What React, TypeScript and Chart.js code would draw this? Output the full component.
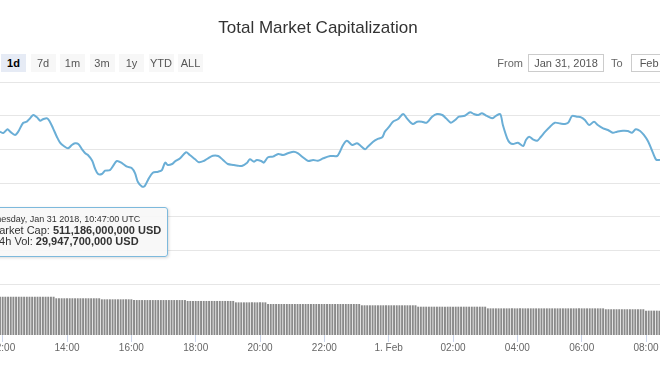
import { useEffect, useRef } from 'react';
import { Chart, registerables } from 'chart.js';

Chart.register(...registerables);

// ---- data (minutes since Jan 31 2018 00:00 UTC) ----
const capTimes = [
  715, 721, 729, 734, 743, 749, 758, 765, 771, 777,
  784, 790, 795, 803, 808, 814, 821, 827, 834, 842,
  849, 855, 861, 868, 874, 879, 887, 892, 898, 905,
  911, 920, 926, 933, 943, 952, 961, 967, 972, 980,
  985, 991, 1000, 1010, 1017, 1023, 1028, 1036, 1041, 1051,
  1062, 1069, 1079, 1086, 1096, 1103, 1112, 1122, 1131, 1140,
  1150, 1159, 1166, 1176, 1181, 1189, 1194, 1202, 1207, 1215,
  1224, 1234, 1243, 1252, 1263, 1271, 1280, 1290, 1299, 1308,
  1318, 1331, 1344, 1349, 1355, 1362, 1372, 1381, 1388, 1396,
  1401, 1411, 1418, 1428, 1433, 1441, 1448, 1457, 1467, 1474,
  1485, 1493, 1502, 1511, 1521, 1530, 1540, 1547, 1556, 1564,
  1571, 1582, 1592, 1599, 1607, 1614, 1623, 1633, 1640, 1648,
  1653, 1661, 1666, 1672, 1681, 1691, 1696, 1702, 1709, 1717,
  1724, 1732, 1741, 1750, 1760, 1769, 1775, 1782, 1791, 1799,
  1806, 1814, 1823, 1830, 1840, 1849, 1858, 1866, 1877, 1886,
  1894, 1901, 1909, 1916, 1924, 1933, 1939, 1946,
];

// Market cap, billions USD
const capValues = [
  517.63, 517.43, 517.98, 517.63, 517.14, 517.63, 518.92, 519.11, 519.61, 520.10,
  519.76, 519.26, 519.47, 519.61, 519.11, 518.13, 516.88, 515.99, 515.50, 515.16,
  515.65, 515.90, 515.80, 515.01, 514.42, 514.17, 513.32, 512.20, 511.35, 511.35,
  511.84, 511.94, 512.54, 513.28, 512.94, 512.43, 512.20, 511.45, 510.21, 509.47,
  509.57, 510.46, 511.54, 511.69, 511.94, 513.03, 512.69, 512.83, 513.18, 513.68,
  514.57, 514.17, 513.53, 513.09, 513.32, 513.68, 514.06, 514.02, 513.43, 512.83,
  512.69, 512.58, 512.54, 513.03, 513.53, 513.18, 513.43, 513.28, 513.03, 513.83,
  513.92, 514.32, 514.17, 514.42, 514.66, 514.42, 513.83, 513.28, 513.43, 513.32,
  513.68, 514.02, 514.02, 514.66, 515.65, 516.29, 515.65, 515.90, 515.50, 515.01,
  515.40, 516.14, 516.50, 516.79, 517.63, 518.37, 519.11, 519.47, 520.25, 519.61,
  518.77, 519.11, 519.11, 518.96, 519.85, 520.25, 520.10, 519.61, 518.96, 519.36,
  519.85, 520.00, 520.50, 520.25, 520.10, 520.36, 519.96, 519.61, 519.96, 520.25,
  518.62, 516.65, 515.99, 515.80, 515.99, 515.50, 516.39, 516.88, 516.50, 516.29,
  516.88, 517.63, 518.37, 518.96, 518.84, 518.77, 518.96, 519.96, 519.85, 519.76,
  519.36, 518.62, 519.11, 518.62, 518.13, 517.88, 517.48, 517.63, 517.77, 517.73,
  517.48, 517.98, 517.73, 517.14, 516.17, 514.47, 513.47, 513.43,
];

// 24h volume, billions USD, one bar every 5 minutes from 11:55
const volumeStartMinute = 715;
const volumeStepMinutes = 5;
const volumeValues = [
  30.0, 30.0, 30.0, 30.0, 30.0, 30.0, 30.0, 30.0, 30.0, 30.0,
  30.0, 30.0, 30.0, 30.0, 30.0, 30.0, 30.0, 30.0, 30.0, 30.0,
  30.0,
  28.8, 28.8, 28.8, 28.8, 28.8, 28.8, 28.8, 28.8, 28.8, 28.8,
  28.8, 28.8, 28.8, 28.8, 28.8, 28.8, 28.8,
  28.0, 28.0, 28.0, 28.0, 28.0, 28.0, 28.0, 28.0, 28.0, 28.0, 28.0, 28.0,
  27.4, 27.4, 27.4, 27.4, 27.4, 27.4, 27.4, 27.4, 27.4, 27.4,
  27.4, 27.4, 27.4, 27.4, 27.4, 27.4, 27.4, 27.4, 27.4, 27.4,
  26.7, 26.7, 26.7, 26.7, 26.7, 26.7, 26.7, 26.7, 26.7, 26.7,
  26.7, 26.7, 26.7, 26.7, 26.7, 26.7, 26.7, 26.7,
  25.6, 25.6, 25.6, 25.6, 25.6, 25.6, 25.6, 25.6, 25.6, 25.6, 25.6, 25.6,
  24.3, 24.3, 24.3, 24.3, 24.3, 24.3, 24.3, 24.3, 24.3, 24.3,
  24.3, 24.3, 24.3, 24.3, 24.3, 24.3, 24.3, 24.3, 24.3, 24.3,
  24.3, 24.3, 24.3, 24.3, 24.3, 24.3, 24.3, 24.3, 24.3, 24.3,
  24.3, 24.3, 24.3, 24.3, 24.3,
  23.3, 23.3, 23.3, 23.3, 23.3, 23.3, 23.3, 23.3, 23.3, 23.3,
  23.3, 23.3, 23.3, 23.3, 23.3, 23.3, 23.3, 23.3, 23.3, 23.3,
  23.3,
  22.2, 22.2, 22.2, 22.2, 22.2, 22.2, 22.2, 22.2, 22.2, 22.2,
  22.2, 22.2, 22.2, 22.2, 22.2, 22.2, 22.2, 22.2, 22.2, 22.2,
  22.2, 22.2, 22.2, 22.2, 22.2, 22.2,
  20.9, 20.9, 20.9, 20.9, 20.9, 20.9, 20.9, 20.9, 20.9, 20.9,
  20.9, 20.9, 20.9, 20.9, 20.9, 20.9, 20.9, 20.9, 20.9, 20.9,
  20.9, 20.9, 20.9, 20.9, 20.9, 20.9, 20.9, 20.9, 20.9, 20.9,
  20.9, 20.9, 20.9, 20.9, 20.9, 20.9, 20.9, 20.9, 20.9, 20.9,
  20.9, 20.9, 20.9, 20.9,
  20.2, 20.2, 20.2, 20.2, 20.2, 20.2, 20.2, 20.2, 20.2, 20.2,
  20.2, 20.2, 20.2, 20.2, 20.2,
  19.1, 19.1, 19.1, 19.1, 19.1, 19.1,
];

const tickMinutes = [720, 840, 960, 1080, 1200, 1320, 1440, 1560, 1680, 1800, 1920];
const tickLabels = ['12:00', '14:00', '16:00', '18:00', '20:00', '22:00', '1. Feb', '02:00', '04:00', '06:00', '08:00'];
const capGridValues = [495, 500, 505, 510, 515, 520, 525];

const rangeButtons = ['1d', '7d', '1m', '3m', '1y', 'YTD', 'ALL'];
const selectedRange = 0;
const fromDate = 'Jan 31, 2018';
const toDate = 'Feb 1, 2018';
const titleText = 'Total Market Capitalization';
const tooltipHeader = 'Wednesday, Jan 31 2018, 10:47:00 UTC';
const tooltipCap = '511,186,000,000 USD';
const tooltipVol = '29,947,700,000 USD';

const FONT = '"Liberation Sans", Arial, Helvetica, sans-serif';
const LINE_COLOR = '#6aaed6';

export default function App() {
  const ref = useRef<HTMLCanvasElement>(null);

  useEffect(() => {
    const canvas = ref.current;
    if (!canvas) return;
    const chart = new Chart(canvas, {
      type: 'line',
      data: {
        datasets: [
          {
            type: 'line',
            data: capTimes.map((t, i) => ({ x: t, y: capValues[i] })),
            yAxisID: 'y',
            borderColor: LINE_COLOR,
            borderWidth: 2,
            pointRadius: 0,
            tension: 0.3,
            fill: false,
            order: 0,
          } as any,
          {
            type: 'bar',
            data: volumeValues.map((v, i) => ({ x: volumeStartMinute + i * volumeStepMinutes, y: v })),
            yAxisID: 'y1',
            backgroundColor: '#8a8a8a',
            barPercentage: 0.72,
            categoryPercentage: 1,
            order: 1,
          } as any,
        ],
      },
      options: {
        responsive: false,
        animation: false,
        events: [],
        layout: { padding: { left: 50, right: 50, top: 82, bottom: 11 } },
        plugins: {
          legend: { display: false },
          tooltip: { enabled: false },
          title: { display: false },
        },
        scales: {
          x: {
            type: 'linear',
            min: 715,
            max: 1946.1,
            offset: false,
            afterBuildTicks: (s: any) => {
              s.ticks = tickMinutes.map((v) => ({ value: v }));
            },
            ticks: {
              autoSkip: false,
              maxRotation: 0,
              padding: 0,
              color: '#666666',
              font: { family: FONT, size: 10, lineHeight: 1.2 },
              callback: (v: any) => {
                const i = tickMinutes.indexOf(Number(v));
                return i >= 0 ? tickLabels[i] : '';
              },
            },
            grid: { drawOnChartArea: false, drawTicks: true, tickLength: 7, color: '#ccd6eb', offset: false },
            border: { display: false },
          },
          y: {
            type: 'linear',
            position: 'right',
            min: 487.46,
            max: 525,
            afterBuildTicks: (s: any) => {
              s.ticks = capGridValues.map((v) => ({ value: v }));
            },
            ticks: { display: false },
            grid: { color: '#e6e6e6', drawTicks: false },
            border: { display: false },
          },
          y1: { type: 'linear', display: false, min: 0, max: 198.4 },
        },
      } as any,
    });
    return () => chart.destroy();
  }, []);

  const btnW = 25;
  const btnPitch = 29.5;

  return (
    <div
      style={{
        position: 'fixed',
        left: 0,
        top: 0,
        width: 660,
        height: 365,
        overflow: 'hidden',
        background: '#ffffff',
        fontFamily: FONT,
      }}
    >
      <canvas ref={ref} width={760} height={365} style={{ position: 'absolute', left: -50, top: 0 }} />

      <div
        style={{
          position: 'absolute',
          left: 153,
          top: 18,
          width: 330,
          textAlign: 'center',
          fontSize: 17,
          lineHeight: '20px',
          color: '#333333',
        }}
      >
        {titleText}
      </div>

      {rangeButtons.map((b, i) => (
        <div
          key={b}
          style={{
            position: 'absolute',
            left: 1 + i * btnPitch,
            top: 54,
            width: btnW,
            height: 18,
            lineHeight: '18px',
            textAlign: 'center',
            fontSize: 11,
            background: i === selectedRange ? '#e6ebf5' : '#f7f7f7',
            color: i === selectedRange ? '#000000' : '#555555',
            fontWeight: i === selectedRange ? 'bold' : 'normal',
          }}
        >
          {b}
        </div>
      ))}

      <div style={{ position: 'absolute', left: 490, top: 54, width: 33, height: 18, lineHeight: '18px', fontSize: 11, color: '#666666', textAlign: 'right' }}>
        From
      </div>
      <div
        style={{
          position: 'absolute',
          left: 528,
          top: 54,
          width: 76,
          height: 18,
          boxSizing: 'border-box',
          border: '1px solid #cccccc',
          lineHeight: '16px',
          fontSize: 11,
          color: '#555555',
          textAlign: 'center',
        }}
      >
        {fromDate}
      </div>
      <div style={{ position: 'absolute', left: 611, top: 54, width: 14, height: 18, lineHeight: '18px', fontSize: 11, color: '#666666' }}>
        To
      </div>
      <div
        style={{
          position: 'absolute',
          left: 631,
          top: 54,
          width: 76,
          height: 18,
          boxSizing: 'border-box',
          border: '1px solid #cccccc',
          lineHeight: '16px',
          fontSize: 11,
          color: '#555555',
          textAlign: 'center',
          whiteSpace: 'nowrap',
        }}
      >
        {toDate}
      </div>

      <div
        style={{
          position: 'absolute',
          left: -60,
          top: 207,
          width: 228,
          height: 50,
          boxSizing: 'border-box',
          border: `1px solid #7db9dc`,
          borderRadius: 3,
          background: 'rgba(247,247,247,0.9)',
          boxShadow: '1px 1px 3px rgba(0,0,0,0.15)',
        }}
      />
      <div style={{ position: 'absolute', left: -22, top: 214, fontSize: 9, lineHeight: '11px', color: '#333333', whiteSpace: 'nowrap' }}>
        {tooltipHeader}
      </div>
      <div style={{ position: 'absolute', left: -10, top: 224, fontSize: 11, lineHeight: '13px', color: '#333333', whiteSpace: 'nowrap' }}>
        Market Cap: <b>{tooltipCap}</b>
      </div>
      <div style={{ position: 'absolute', left: -7, top: 235, fontSize: 11, lineHeight: '13px', color: '#333333', whiteSpace: 'nowrap' }}>
        24h Vol: <b>{tooltipVol}</b>
      </div>
    </div>
  );
}
